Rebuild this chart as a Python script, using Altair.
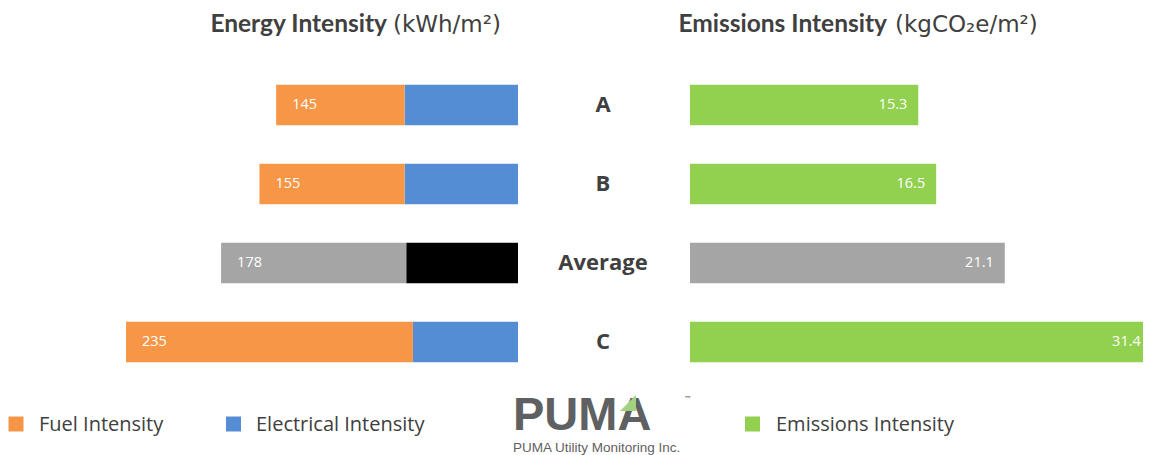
import altair as alt
import pandas as pd

# ---- data ----
categories = ["A", "B", "Average", "C"]
energy_total = [145, 155, 178, 235]      # kWh/m2 (label shown on bar)
electrical = [68, 68, 67, 63]            # electrical part of the energy bar
emissions = [15.3, 16.5, 21.1, 31.4]     # kgCO2e/m2

legend_labels = ["Fuel Intensity", "Electrical Intensity", "Emissions Intensity"]

# ---- styles ----
ORANGE = "#F79646"
BLUE = "#548DD4"
GREEN = "#92D050"
GRAY = "#A5A5A5"
BLACK = "#000000"
TEXT = "#404040"
LOGO = "#5F6062"

df = pd.DataFrame({"cat": categories, "total": energy_total,
                   "elec": electrical, "emis": emissions})

base = alt.Chart(df)
Y = alt.Y("cat:N", sort=categories, axis=None,
          scale=alt.Scale(range=[57.5, 373.5], paddingInner=0.49, paddingOuter=0.245))
LS = alt.Scale(domain=[0, 300], range=[510, 9.6], nice=False, zero=True)
RS = alt.Scale(domain=[0, 35], range=[682, 1204.2], nice=False, zero=True)

is_avg = alt.datum.cat == "Average"

left_elec = base.mark_bar().encode(
    x=alt.X("elec:Q", scale=LS, axis=None), y=Y,
    color=alt.condition(is_avg, alt.value(BLACK), alt.value(BLUE)))
left_fuel = base.mark_bar().encode(
    x=alt.X("total:Q", scale=LS, axis=None), x2="elec:Q", y=Y,
    color=alt.condition(is_avg, alt.value(GRAY), alt.value(ORANGE)))
left_lab = base.mark_text(align="left", baseline="middle", dx=16, color="white",
                          font="Open Sans", fontSize=14.5).encode(
    x=alt.X("total:Q", scale=LS, axis=None), y=Y, text="total:Q")

cat_lab = base.mark_text(align="center", baseline="middle", color=TEXT,
                         font="Open Sans", fontWeight="bold", fontSize=22).encode(
    x=alt.value(595), y=Y, text="cat:N")

right_bar = base.mark_bar().encode(
    x=alt.X("emis:Q", scale=RS, axis=None), y=Y,
    color=alt.condition(is_avg, alt.value(GRAY), alt.value(GREEN)))
# keep the label of a bar that runs off the page inside the visible area
right_lab = base.transform_calculate(lx="min(datum.emis, 30.95)").mark_text(
    align="right", baseline="middle", dx=-11, color="white",
    font="Open Sans", fontSize=14.5).encode(
    x=alt.X("lx:Q", scale=RS, axis=None), y=Y, text=alt.Text("emis:Q", format=".1f"))

one = alt.Data(values=[{}])


def txt(s, x, y, **kw):
    return alt.Chart(one).mark_text(text=s, **kw).encode(x=alt.value(x), y=alt.value(y))


titles = [
    txt("Energy Intensity", 379, 24, align="right", baseline="alphabetic", font="Lato",
        fontWeight="bold", fontSize=24.5, color=TEXT),
    txt("(kWh/m²)", 385, 24, align="left", baseline="alphabetic", font="DejaVu Sans",
        fontSize=23, color=TEXT),
    txt("Emissions Intensity", 879, 24, align="right", baseline="alphabetic", font="Lato",
        fontWeight="bold", fontSize=24.5, color=TEXT),
    txt("(kgCO₂e/m²)", 887, 24, align="left", baseline="alphabetic", font="DejaVu Sans",
        fontSize=23, color=TEXT),
]

legend_colors = [ORANGE, BLUE, GREEN]
legend_sq_x = [8, 225.5, 744.5]
legend_tx_x = [31, 248, 768]
legend = []
for lab, col, sx, tx in zip(legend_labels, legend_colors, legend_sq_x, legend_tx_x):
    legend.append(alt.Chart(one).mark_square(size=225, color=col, opacity=1).encode(
        x=alt.value(sx), y=alt.value(416)))
    legend.append(txt(lab, tx, 417, align="left", baseline="middle", font="Open Sans",
                      fontSize=20, color=TEXT))

logo = [
    txt("PUMA", 505, 421.5, align="left", baseline="alphabetic", font="Liberation Sans",
        fontWeight="bold", fontSize=47, color=LOGO),
    alt.Chart(one).mark_point(shape="M1,-1L1,1L-1,1Z", size=256, filled=True,
                              color="#A2D17F", opacity=1, strokeWidth=0).encode(
        x=alt.value(620), y=alt.value(395)),
    txt("™", 676, 394, align="left", baseline="alphabetic", font="DejaVu Sans",
        fontSize=8, color=LOGO),
    txt("PUMA Utility Monitoring Inc.", 505, 444, align="left", baseline="alphabetic",
        font="Liberation Sans", fontSize=13.5, color=LOGO),
]

chart = alt.layer(left_elec, left_fuel, left_lab, cat_lab, right_bar, right_lab,
                  *titles, *legend, *logo).resolve_scale(x="independent").properties(
    width=1135, height=447, autosize="none", padding=0
).configure_view(stroke=None)

chart.save("out.html", embed_options={"renderer": "svg", "actions": False})
